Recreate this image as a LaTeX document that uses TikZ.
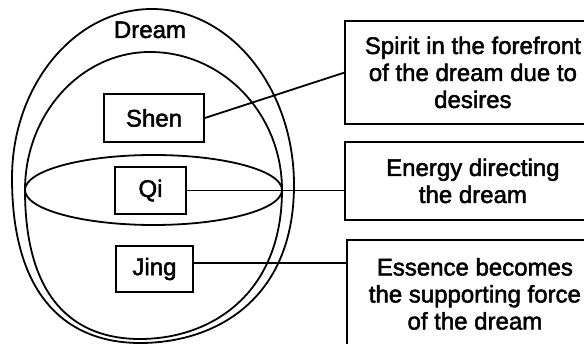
\documentclass[tikz,border=0pt]{standalone}
\usepackage{fontspec}
\setmainfont[FakeBold=2]{Liberation Sans}
\begin{document}
\begin{tikzpicture}[x=1pt,y=-1pt, line width=1.8pt,
  txt/.style={font=\fontsize{24}{27}\selectfont},
  lbl/.style={txt, draw, fill=white, inner sep=0pt},
  note/.style={txt, inner sep=0pt, anchor=north west, align=center, minimum width=254pt}]
\useasboundingbox (0,0) rectangle (584,344);
\clip (0,0) rectangle (584,344);
% outer egg
\draw (152,9) .. controls (230,9) and (294,88) .. (294,185)
  .. controls (294,300) and (215,343) .. (140,343)
  .. controls (70,343) and (12,300) .. (12,178)
  .. controls (12,85) and (75,9) .. cycle;
% inner egg
\draw (150,52) .. controls (223,52) and (282,114) .. (282,190)
  .. controls (282,295) and (210,339) .. (140,339)
  .. controls (75,339) and (25,300) .. (25,190)
  .. controls (25,114) and (81,52) .. cycle;
% horizontal ellipse
\draw (153.5,190) ellipse [x radius=128.5pt, y radius=35pt];
\node[txt, anchor=base] (dream) at (150,38) {Dream};
% right boxes (open to the right, cut by the picture edge)
\node[note, minimum height=101pt] (b1) at (345,21) {Spirit in the forefront\\of the dream due to\\desires};
\node[note, minimum height=76pt] (b2) at (345,142) {Energy directing\\the dream};
\node[note, minimum height=106pt] (b3) at (347,240) {Essence becomes\\the supporting force\\of the dream};
\foreach \b in {b1,b2,b3}
  \draw ([xshift=60pt]\b.north east) -| (\b.south west) -- ([xshift=60pt]\b.south east);
% inner labels
\node[lbl, minimum width=100pt, minimum height=48pt] (shen) at (154,118) {Shen};
\node[lbl, minimum width=71pt, minimum height=47pt] (qi) at (150.5,190.5) {Qi};
\node[lbl, minimum width=77pt, minimum height=46pt] (jing) at (154.5,269) {Jing};
% connectors
\draw (shen.east) -- (b1.west);
\draw (qi.east) -- (qi.east -| b2.west);
\draw ([yshift=6pt]jing.east) -- ([yshift=6pt]jing.east -| b3.west);
\end{tikzpicture}
\end{document}
